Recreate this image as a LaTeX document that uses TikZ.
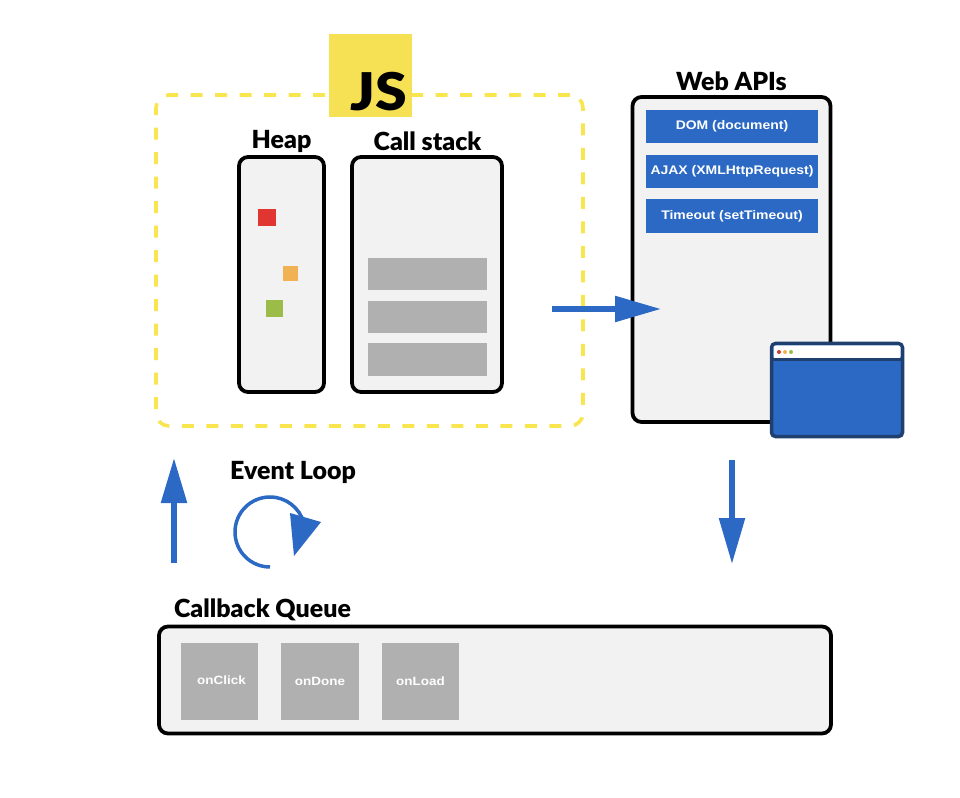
\documentclass[tikz,border=0pt]{standalone}
\usepackage{fontspec}
\setmainfont{Lato}[BoldFont={Lato Black}]
\newfontfamily\boxfont{Liberation Sans}[FakeStretch=1.12]
\usetikzlibrary{arrows.meta}
\definecolor{jsyellow}{HTML}{F6E154}
\definecolor{dashyellow}{HTML}{F9E64F}
\definecolor{panel}{HTML}{F2F2F2}
\definecolor{barg}{HTML}{B0B0B0}
\definecolor{apiblue}{HTML}{2B69C4}
\definecolor{winedge}{HTML}{1F3F6E}
\definecolor{swred}{HTML}{E13532}
\definecolor{sworange}{HTML}{F0B252}
\definecolor{swgreen}{HTML}{9BBC48}
\definecolor{dotred}{HTML}{CD3C32}
\def\px{*0.75pt}
\tikzset{
  x=0.75pt,y=-0.75pt,
  panelbox/.style={draw=black,fill=panel,line width=3.8\px,rounded corners=9\px,inner sep=0pt},
  barbox/.style={fill=barg,inner sep=0pt},
  qtext/.style={text=white,font=\boxfont\bfseries\fontsize{9pt}{10pt}\selectfont},
  apitext/.style={text=white,font=\boxfont\bfseries\fontsize{9.35pt}{10pt}\selectfont},
  apibox/.style={fill=apiblue,inner sep=0pt,minimum width=172\px,minimum height=33.5\px,apitext},
  qbox/.style={barbox,minimum width=77.5\px,minimum height=77\px,qtext},
  swatch/.style={inner sep=0pt},
  heading/.style={inner sep=0pt,anchor=base,text=black,font=\bfseries\fontsize{18.7pt}{20pt}\selectfont},
  flow/.style={draw=apiblue,line width=5.5\px},
}
\begin{document}
\begin{tikzpicture}
\useasboundingbox[fill=white] (0,0) rectangle (960,798);
% JS engine frame
\node[draw=dashyellow,line width=3.6\px,dash pattern=on 12\px off 12.5\px,rounded corners=13\px,inner sep=0pt,minimum width=427\px,minimum height=331\px] (engine) at (369.5,260.5) {};
\node[fill=jsyellow,inner sep=0pt,minimum size=83\px] (jsbadge) at (370.5,75.5) {};
\node[inner sep=0pt,anchor=base,text=black,font=\bfseries\fontsize{39pt}{40pt}\selectfont] (jslabel) at (379,111) {\scalebox{1.1}[1]{JS}};
% Heap
\node[heading] (heaplabel) at (281.5,148.5) {Heap};
\node[panelbox,minimum width=85\px,minimum height=235\px] (heap) at (281.5,274.5) {};
\node[swatch,fill=swred,minimum width=18\px,minimum height=17\px] (s1) at (267,217.5) {};
\node[swatch,fill=sworange,minimum width=15.5\px,minimum height=15.5\px] (s2) at (290.5,273.5) {};
\node[swatch,fill=swgreen,minimum width=17\px,minimum height=17\px] (s3) at (274.5,308.5) {};
% Call stack
\node[heading] (stacklabel) at (427.5,151) {Call stack};
\node[panelbox,minimum width=150\px,minimum height=235\px] (stack) at (427,274.5) {};
\node[barbox,minimum width=119\px,minimum height=32.5\px] (b1) at (427.5,274) {};
\node[barbox,minimum width=119\px,minimum height=32.5\px] (b2) at (427.5,317) {};
\node[barbox,minimum width=119\px,minimum height=32.5\px] (b3) at (427.5,359.5) {};
% Web APIs
\node[heading] (weblabel) at (731.5,90.5) {Web APIs};
\node[panelbox,minimum width=198\px,minimum height=325\px] (web) at (731.5,259.5) {};
\node[apibox] (dom) at (732,126.5) {DOM (document)};
\node[apibox] (ajax) at (732,171.5) {AJAX (XMLHttpRequest)};
\node[apibox] (timeout) at (732,216) {Timeout (setTimeout)};
% Browser window
\node[draw=winedge,fill=apiblue,line width=3.5\px,rounded corners=4\px,inner sep=0pt,minimum width=131\px,minimum height=93\px] (win) at (837,390) {};
\node[fill=white,inner sep=0pt,rounded corners=2\px,minimum width=127\px,minimum height=13\px] (titlebar) at (837,352) {};
\draw[winedge,line width=3\px] (win.west |- 0,360) -- (win.east |- 0,360);
\node[circle,fill=dotred,inner sep=0pt,minimum size=4\px] (d1) at (779,352) {};
\node[circle,fill=sworange,inner sep=0pt,minimum size=4\px] (d2) at (785,352) {};
\node[circle,fill=swgreen,inner sep=0pt,minimum size=4\px] (d3) at (791,352) {};
% Callback queue
\node[heading] (queuelabel) at (262.5,617) {Callback Queue};
\node[panelbox,minimum width=672\px,minimum height=107\px] (queue) at (495,680) {};
\node[qbox] (q1) at (219.5,681.5) {\hspace*{3pt}\raisebox{2pt}{onClick}};
\node[qbox] (q2) at (320,681.5) {onDone};
\node[qbox] (q3) at (420.5,681.5) {onLoad};
% Flows
\coordinate (rs) at (552,309);
\coordinate (re) at (661,309);
\coordinate (us) at (174,563);
\coordinate (ue) at (174,458);
\coordinate (ds) at (732,460);
\coordinate (de) at (732,564);
\draw[flow,-{Triangle[length=46\px,width=25\px]}] (rs) -- (re);
\draw[flow,-{Triangle[length=45\px,width=25\px]}] (us) -- (ue);
\draw[flow,-{Triangle[length=46\px,width=25\px]}] (ds) -- (de);
% Event loop
\node[heading] (looplabel) at (293,479) {Event Loop};
\draw[draw=apiblue,line width=3.5\px] (270,567) arc[start angle=90,end angle=345,radius=35];
\fill[apiblue] (290,513) -- (321,522) -- (294,556) -- cycle;
\end{tikzpicture}
\end{document}
